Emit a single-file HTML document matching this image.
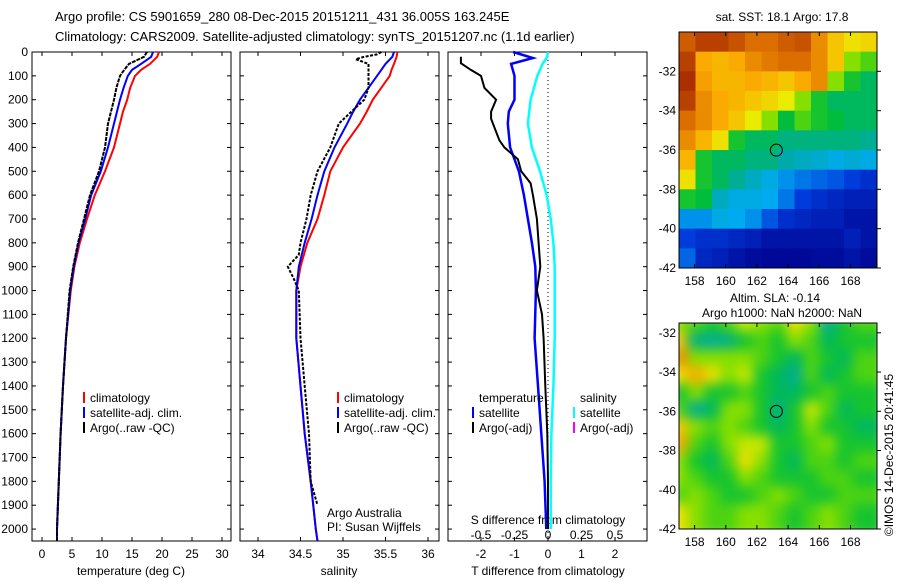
<!DOCTYPE html>
<html><head><meta charset="utf-8"><style>
body{margin:0;background:#fff;width:900px;height:580px;overflow:hidden}
svg{font-family:"Liberation Sans",sans-serif;font-size:12px}
</style></head><body>
<svg id="s" width="900" height="580">
<text x="55" y="21" font-size="13">Argo profile: CS 5901659_280 08-Dec-2015 20151211_431 36.005S 163.245E</text>
<text x="55" y="41" font-size="13">Climatology: CARS2009. Satellite-adjusted climatology: synTS_20151207.nc (1.1d earlier)</text>
</svg>
<script>
const depths=[0,20,50,75,100,150,200,250,300,400,500,600,700,800,900,1000,1200,1400,1600,1800,2000,2050];
const tClim=[19.5,19.2,18,16.5,15.5,14.7,14.2,13.5,13,12,10.5,8.8,7.5,6.3,5.4,4.8,4.0,3.5,3.1,2.8,2.5,2.5];
const tSat=[18.5,18.2,16.5,15,14.3,13.6,13,12.5,12,11,9.8,8.2,7.2,6.1,5.3,4.7,4.0,3.5,3.1,2.8,2.5,2.5];
const tArgo=[17.5,17,14.5,13.7,13,12.4,12,11.5,11,10.5,9.5,8,7,6,5.2,4.6,4,3.5,3.1,2.8,2.5,2.5];
const sClim=[35.64,35.63,35.6,35.57,35.55,35.45,35.35,35.28,35.2,35.0,34.85,34.78,34.7,34.58,34.5,34.45,34.45,34.5,34.55,34.62,34.68,34.7];
const sSat=[35.6,35.58,35.5,35.45,35.4,35.3,35.2,35.12,35.05,34.9,34.78,34.7,34.63,34.55,34.48,34.45,34.45,34.5,34.55,34.62,34.68,34.7];
const argoDepths=[0,10,20,30,50,75,100,150,200,250,300,400,500,600,700,800,850,900,950,1000,1200,1400,1600,1800,1900];
const sArgo=[35.45,35.4,35.25,35.15,35.3,35.3,35.3,35.3,35.25,35.1,34.95,34.85,34.7,34.62,34.57,34.5,34.48,34.35,34.42,34.48,34.5,34.55,34.6,34.62,34.7];
const dDepths=[0,25,50,100,200,250,300,400,500,600,700,800,900,1000,1200,1400,1600,1800,2000];
const dTSat=[-1.04,-0.45,-1.1,-1.0,-1.0,-1.17,-1.2,-1.13,-0.87,-0.72,-0.6,-0.48,-0.38,-0.36,-0.4,-0.3,-0.2,-0.1,-0.05];
const dSSat=[0,-0.01,-0.04,-0.08,-0.13,-0.14,-0.15,-0.12,-0.06,-0.01,0.02,0.04,0.05,0.05,0.05,0.04,0.025,0.02,0.02];
const aDepths=[20,47,75,100,150,200,250,280,370,400,450,500,550,600,700,800,900,1000,1100,1200,1400,1600,1800,2000];
const dTArgo=[-2.6,-2.6,-2.3,-2.0,-1.9,-1.55,-1.7,-1.7,-1.45,-1.3,-0.9,-0.8,-0.52,-0.45,-0.33,-0.28,-0.23,-0.33,-0.18,-0.13,-0.08,-0.02,0,0];
const depthTicks=[0,100,200,300,400,500,600,700,800,900,1000,1100,1200,1300,1400,1500,1600,1700,1800,1900,2000];
const tTicks=[0,5,10,15,20,25,30];
const sTicks=[34,34.5,35,35.5,36];
const sTickLabels=["34","34.5","35","35.5","36"];
const dtTicks=[-2,-1,0,1,2];
const dsTicks=[-0.5,-0.25,0,0.25,0.5];
const dsTickLabels=["-0.5","-0.25","0","0.25","0.5"];
const lonTicks=[158,160,162,164,166,168];
const latTicks=[-32,-34,-36,-38,-40,-42];
const sstGrid=[
[.92,.95,.95,.93,.9,.9,.92,.93,.85,.75,.7,.72],
[.95,.8,.78,.8,.85,.88,.9,.9,.85,.75,.6,.55],
[.97,.82,.78,.78,.8,.78,.75,.8,.85,.6,.5,.45],
[.95,.85,.8,.78,.75,.72,.68,.6,.5,.45,.45,.45],
[.9,.85,.8,.75,.68,.6,.48,.55,.5,.48,.45,.45],
[.85,.78,.7,.5,.45,.45,.42,.42,.42,.42,.42,.4],
[.78,.5,.45,.45,.42,.42,.38,.35,.33,.3,.32,.3],
[.7,.5,.45,.4,.35,.3,.25,.22,.2,.18,.15,.12],
[.5,.48,.35,.3,.3,.28,.22,.15,.12,.1,.08,.08],
[.25,.25,.3,.28,.25,.18,.12,.1,.08,.08,.05,.05],
[.15,.12,.12,.1,.08,.05,.05,.05,.05,.05,.08,.05],
[.2,.1,.08,.05,.03,.02,.02,.02,.03,.03,.05,.03]];
const slaGrid=[
[.6,.55,.5,.55,.65,.6,.55,.7,.6,.4,.5,.55],
[.75,.42,.4,.42,.5,.55,.5,.6,.55,.45,.5,.5],
[.85,.6,.6,.6,.6,.55,.5,.45,.55,.5,.45,.55],
[.7,.8,.7,.6,.65,.5,.45,.4,.55,.45,.5,.55],
[.5,.6,.5,.5,.55,.5,.45,.45,.5,.55,.5,.5],
[.55,.4,.45,.6,.6,.5,.42,.5,.65,.55,.45,.5],
[.75,.6,.55,.6,.55,.5,.45,.5,.6,.5,.5,.45],
[.8,.55,.5,.6,.65,.65,.5,.5,.55,.6,.5,.5],
[.6,.5,.45,.55,.7,.6,.5,.45,.55,.55,.5,.55],
[.6,.55,.5,.5,.6,.55,.5,.5,.5,.55,.55,.5],
[.55,.6,.55,.5,.5,.55,.6,.55,.5,.5,.55,.55],
[.7,.6,.55,.55,.6,.6,.55,.5,.55,.6,.55,.5]];
const argoLon=163.245, argoLat=-36.005;

const NS="http://www.w3.org/2000/svg";
const svg=document.getElementById('s');
function mk(tag,attrs,parent){const e=document.createElementNS(NS,tag);for(const k in attrs)e.setAttribute(k,attrs[k]);(parent||svg).appendChild(e);return e;}
function txt(x,y,s,anchor,parent,size){const t=mk('text',{x:x,y:y,'text-anchor':anchor||'start'},parent);if(size)t.setAttribute('font-size',size);t.textContent=s;return t;}
const y0=52,y1=541,dMax=2050;
const yD=d=>y0+d/dMax*(y1-y0);
function lin(a,b,pa,pb){return v=>pa+(v-a)/(b-a)*(pb-pa);}
const xT=lin(0,30,42,222), xS=lin(34,36,258,428), xDT=lin(-2,2,481,615), xDS=lin(-0.5,0.5,481,615);

function frame(x,name){const r=mk('rect',{x:x,y:y0,width:199,height:y1-y0,fill:'none',stroke:'#000','stroke-width':1});

depthTicks.forEach(d=>{mk('line',{x1:x,x2:x+4,y1:yD(d),y2:yD(d),stroke:'#000'});mk('line',{x1:x+199,x2:x+195,y1:yD(d),y2:yD(d),stroke:'#000'});});}
frame(32,'temperature-panel');frame(240,'salinity-panel');frame(448,'difference-panel');
const yl=mk('g',{});
depthTicks.forEach(d=>txt(28,yD(d)+4,String(d),'end',yl));

function xticks(vals,labels,fx,ypos,name,tickY){const g=mk('g',{});
vals.forEach((v,i)=>{const x=fx(v);if(tickY!==null){mk('line',{x1:x,x2:x,y1:y1,y2:y1-4,stroke:'#000'},g);mk('line',{x1:x,x2:x,y1:y0,y2:y0+4,stroke:'#000'},g);}txt(x,ypos,labels[i],'middle',g);});}
xticks(tTicks,tTicks.map(String),xT,558,'temperature-x-axis',1);
xticks(sTicks,sTickLabels,xS,558,'salinity-x-axis',1);
xticks(dtTicks,dtTicks.map(String),xDT,558,'t-diff-x-axis',1);
xticks(dsTicks,dsTickLabels,xDS,539,'s-diff-x-axis',null);
let t=txt(131,575,'temperature (deg C)','middle');
t=txt(339,575,'salinity','middle');
t=txt(548,575,'T difference from climatology','middle');
t=txt(548,524,'S difference from climatology','middle');
const zl=mk('line',{x1:xDT(0),x2:xDT(0),y1:y0,y2:y1,stroke:'#000','stroke-dasharray':'1,3'});


function line(xs,ds,fx,color,name,dash,w){const p=xs.map((v,i)=>fx(v).toFixed(1)+','+yD(ds[i]).toFixed(1)).join(' ');
const e=mk('polyline',{points:p,fill:'none',stroke:color,'stroke-width':w||2});if(dash)e.setAttribute('stroke-dasharray',dash);
}
line(tClim,depths,xT,'#f00','temp-climatology-line');
line(tSat,depths,xT,'#00f','temp-satellite-line');
line(tArgo,depths,xT,'#000','temp-argo-line','4,1',2);
line(sClim,depths,xS,'#f00','sal-climatology-line');
line(sSat,depths,xS,'#00f','sal-satellite-line');
line(sArgo,argoDepths,xS,'#000','sal-argo-line','3,1.5',2);
line(dSSat,dDepths,xDS,'#0ff','s-diff-satellite-line',null,2.5);
line(dTSat,dDepths,xDT,'#00f','t-diff-satellite-line',null,2.5);
line(dTArgo,aDepths,xDT,'#000','t-diff-argo-line');

function legend(x,items,name){const g=mk('g',{});
items.forEach((it,i)=>{if(it[1])mk('rect',{x:x,y:392+i*15,width:2,height:11,fill:it[1]},g);txt(x+7,402+i*15,it[0],'start',g);});}
legend(83,[['climatology','#f00'],['satellite-adj. clim.','#00f'],['Argo(..raw -QC)','#000']],'temperature-legend');
legend(337,[['climatology','#f00'],['satellite-adj. clim.','#00f'],['Argo(..raw -QC)','#000']],'salinity-legend');
legend(472,[['temperature',null],['satellite','#00f'],['Argo(-adj)','#000']],'t-diff-legend');
legend(573,[['salinity',null],['satellite','#0ff'],['Argo(-adj)','#f0f']],'s-diff-legend');
t=txt(327,517,'Argo Australia');
t=txt(327,531,'PI: Susan Wijffels');

function cmap(v){const stops=[[0,[0,0,140]],[0.15,[0,60,220]],[0.28,[0,170,240]],[0.38,[0,170,170]],[0.48,[0,190,60]],[0.58,[110,220,0]],[0.68,[235,235,0]],[0.8,[250,170,0]],[0.9,[220,110,0]],[1,[150,20,0]]];
for(let i=1;i<stops.length;i++){if(v<=stops[i][0]){const a=stops[i-1],b=stops[i],f=(v-a[0])/(b[0]-a[0]);return 'rgb('+a[1].map((c,k)=>Math.round(c+f*(b[1][k]-c))).join(',')+')';}}return 'rgb(150,20,0)';}
function map(grid,top,H,latTop,name,blur){const L=679,W=198;const lonX=lin(157,169.7,L,L+W),latY=lin(latTop,-42,top,top+H);
const cp=mk('clipPath',{id:'c'+name});mk('rect',{x:L,y:top,width:W,height:H},cp);
const g=mk('g',{'clip-path':'url(#c'+name+')'});
const g2=mk('g',blur?{style:'filter:blur(6px)'}:{},g);
const nr=grid.length,nc=grid[0].length,cw=W/nc,ch=H/nr;
grid.forEach((row,r)=>row.forEach((v,c)=>{mk('rect',{x:L+c*cw-(blur?8:0),y:top+r*ch-(blur?8:0),width:cw+(blur?16:0.5),height:ch+(blur?16:0.5),fill:cmap(v)},g2);}));
const fr=mk('rect',{x:L,y:top,width:W,height:H,fill:'none',stroke:'#000'});
const c=mk('circle',{cx:lonX(argoLon),cy:latY(argoLat),r:6,fill:'none',stroke:'#000'});
const ax=mk('g',{});
lonTicks.forEach(v=>{const x=lonX(v);mk('line',{x1:x,x2:x,y1:top,y2:top+4,stroke:'#000'},ax);mk('line',{x1:x,x2:x,y1:top+H,y2:top+H-4,stroke:'#000'},ax);txt(x,top+H+17,String(v),'middle',ax);});
latTicks.forEach(v=>{const y=latY(v);mk('line',{x1:L+W,x2:L+W+4,y1:y,y2:y,stroke:'#000'},ax);txt(L-3,y+4,String(v),'end',ax);});}
map(sstGrid,32,236,-30,'sst-map',false);
map(slaGrid,323,206,-31.5,'sla-map',true);
t=txt(782,21,'sat. SST: 18.1  Argo: 17.8','middle');
t=txt(775,302,'Altim. SLA: -0.14','middle');
t=txt(782,317,'Argo h1000: NaN h2000: NaN','middle');
t=mk('text',{x:0,y:0,'text-anchor':'middle',transform:'translate(893,455) rotate(-90)'});t.textContent='©IMOS 14-Dec-2015 20:41:45';

</script>
</body></html>
